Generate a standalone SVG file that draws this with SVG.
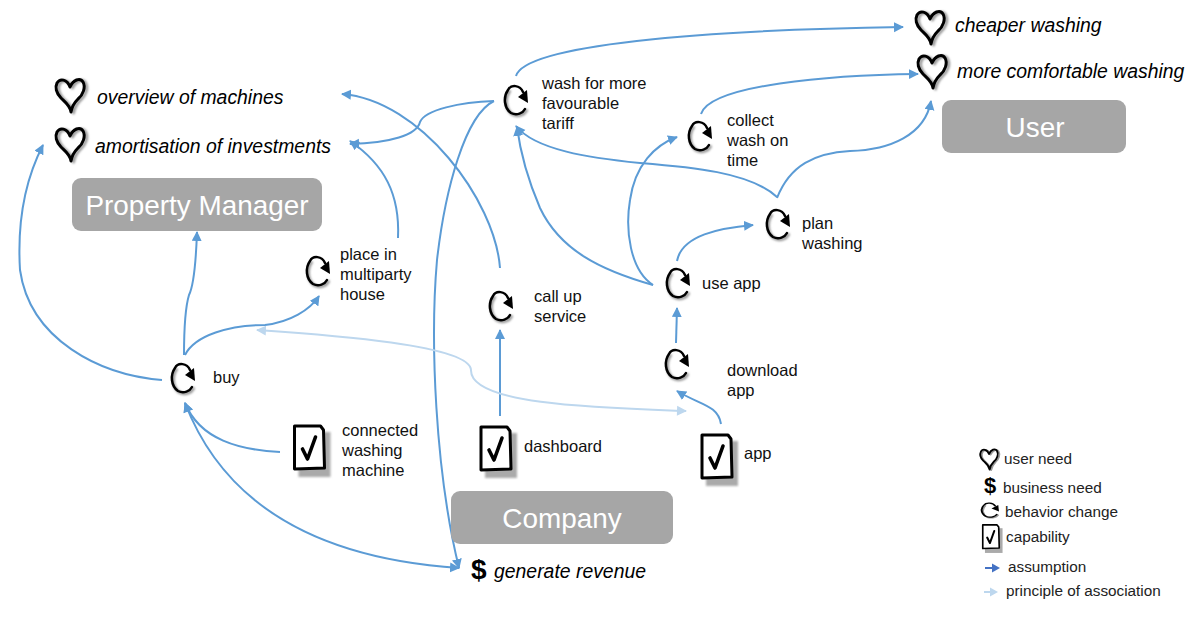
<svg xmlns="http://www.w3.org/2000/svg" width="1195" height="619" viewBox="0 0 1195 619">
<style>
text{font-family:"Liberation Sans",Arial,sans-serif;fill:#111}
.t{font-size:16.5px}
.n{font-size:19.4px;font-style:italic;fill:#000}
.l{font-size:15.300px;fill:#222}
.b{font-size:27.900px;fill:#fff;text-anchor:middle}
.box{fill:#a6a6a6}
.c{fill:none;stroke:#5b9bd5;stroke-width:2;marker-end:url(#a)}
.p{fill:none;stroke:#bdd7ee;stroke-width:2;marker-end:url(#p);marker-start:url(#ps)}
.ink{fill:none;stroke:#000;stroke-linecap:round;stroke-linejoin:round}
.sh{fill:none;stroke:#999;stroke-linecap:round;stroke-linejoin:round;filter:url(#blur)}
</style>
<defs>
<filter id="blur" x="-30%" y="-30%" width="160%" height="160%"><feGaussianBlur stdDeviation="0.8"/></filter>
<marker id="a" markerUnits="userSpaceOnUse" markerWidth="11" markerHeight="11" refX="9" refY="5" orient="auto"><path d="M0 0L10 5L0 10Z" fill="#5b9bd5"/></marker>
<marker id="as" markerUnits="userSpaceOnUse" markerWidth="11" markerHeight="11" refX="1" refY="5" orient="auto"><path d="M10 0L0 5L10 10Z" fill="#5b9bd5"/></marker>
<marker id="p" markerUnits="userSpaceOnUse" markerWidth="11" markerHeight="11" refX="9" refY="5" orient="auto"><path d="M0 0L10 5L0 10Z" fill="#bdd7ee"/></marker>
<marker id="ps" markerUnits="userSpaceOnUse" markerWidth="11" markerHeight="11" refX="1" refY="5" orient="auto"><path d="M10 0L0 5L10 10Z" fill="#bdd7ee"/></marker>
<symbol id="heart" overflow="visible" viewBox="-20 -20 40 40" width="40" height="40">
<path class="sh" stroke-width="3" transform="translate(2.500,1)" d="M1 17C0 10-5 7-9 3C-14-2-15-8-13-12C-10-17-3-16 0-8C3-15 10-18 13-13C16-8 13 0 8 4C4 8 2 11 1 17Z"/>
<path class="ink" stroke-width="3" d="M1 17C0 10-5 7-9 3C-14-2-15-8-13-12C-10-17-3-16 0-8C3-15 10-18 13-13C16-8 13 0 8 4C4 8 2 11 1 17Z"/>
</symbol>
<symbol id="cycle" overflow="visible" viewBox="-20 -20 40 40" width="40" height="40">
<path class="sh" stroke-width="3" transform="translate(1.500,1.500)" d="M-8-10C-13-3-12 8-5 13C1 16 7 13 9 9"/>
<path class="ink" stroke-width="2.500" d="M7-8C4-15-5-16-8-10C-13-3-12 8-5 13C1 16 7 13 9 9"/>
<path d="M2-3L11-10L12 3Z" fill="#000"/>
</symbol>
<symbol id="check" overflow="visible" viewBox="-20 -26 40 52" width="40" height="52">
<path d="M-11-16H21V29H-11Z" fill="#aaa" filter="url(#blur)"/>
<path d="M-15-22H11L14-18L15 20L-15 21Z" fill="#fff" stroke="#000" stroke-width="3" stroke-linejoin="round"/>
<path class="ink" stroke-width="3.600" d="M-7 1L-2 11L6-11"/>
</symbol>
</defs>

<g id="connectors">
<path class="c" d="M516 76C525 45 700 30 903 27"/>
<path class="c" d="M701 114C710 85 830 75 918 74"/>
<path class="c" d="M777 198C790 165 815 153 850 151C890 150 925 135 931 101"/>
<path class="c" d="M777 197C750 172 690 167 640 163C590 158 535 150 516 126"/>
<path class="c" d="M653 285C600 270 560 250 540 208C528 180 520 150 517 127"/>
<path class="c" d="M653 285C630 270 625 230 630 200C635 165 655 145 677 137"/>
<path class="c" d="M677 261C682 235 720 228 753 225"/>
<path class="c" d="M676 343L677 308"/>
<path class="c" d="M721 424C718 405 700 405 677 391"/>
<path class="c" d="M500 416V330"/>
<path class="c" d="M500 268C495 200 420 100 342 94"/>
<path class="c" d="M494 101C460 102 425 110 420 122C417 135 390 143 350 144"/>
<path class="c" d="M494 101C465 115 445 190 437 260C430 340 435 470 459 568"/>
<path class="c" d="M280 452C240 450 200 440 185 403"/>
<path class="c" style="marker-start:url(#as)" d="M185 403C230 520 340 560 459 568"/>
<path class="c" d="M162 380C100 375 30 340 20 270C17 220 25 180 43 145"/>
<path class="c" d="M184 355C184 325 186 305 189 295C194 285 196 260 197 232"/>
<path class="c" d="M185 355C195 335 230 325 265 325C290 322 310 310 319 296"/>
<path class="c" d="M398 238C400 195 385 165 350 141"/>
<path class="p" d="M686 411C600 408 470 405 471 370C470 345 330 335 257 330"/>
</g>

<g id="overview"><use href="#heart" x="50" y="75"/><text class="n" x="97" y="104">overview of machines</text></g>
<g id="amortisation"><use href="#heart" x="50" y="124"/><text class="n" x="95" y="153">amortisation of investments</text></g>
<g id="cheaper"><use href="#heart" x="910" y="7"/><text class="n" x="955" y="32">cheaper washing</text></g>
<g id="comfortable"><use href="#heart" x="912" y="51"/><text class="n" x="957" y="78">more comfortable washing</text></g>
<g id="property-manager"><rect class="box" x="72" y="178" width="250" height="53" rx="9"/><text class="b" x="197" y="215">Property Manager</text></g>
<g id="user"><rect class="box" x="942" y="100" width="184" height="53" rx="9"/><text class="b" x="1035" y="137">User</text></g>
<g id="company"><rect class="box" x="451" y="491" width="222" height="53" rx="9"/><text class="b" x="562" y="528">Company</text></g>
<g id="wash"><use href="#cycle" x="496" y="80"/><text class="t" x="542" y="89">wash for more</text><text class="t" x="542" y="109">favourable</text><text class="t" x="542" y="129">tariff</text></g>
<g id="collect"><use href="#cycle" x="680" y="116"/><text class="t" x="727" y="126">collect</text><text class="t" x="727" y="146">wash on</text><text class="t" x="727" y="166">time</text></g>
<g id="plan"><use href="#cycle" x="758" y="204"/><text class="t" x="802" y="229">plan</text><text class="t" x="802" y="249">washing</text></g>
<g id="use-app"><use href="#cycle" x="658" y="263"/><text class="t" x="702" y="289">use app</text></g>
<g id="download"><use href="#cycle" x="657" y="344"/><text class="t" x="727" y="376">download</text><text class="t" x="727" y="396">app</text></g>
<g id="call-up"><use href="#cycle" x="481" y="286"/><text class="t" x="534" y="302">call up</text><text class="t" x="534" y="322">service</text></g>
<g id="place"><use href="#cycle" x="298" y="251"/><text class="t" x="340" y="260">place in</text><text class="t" x="340" y="280">multiparty</text><text class="t" x="340" y="300">house</text></g>
<g id="buy"><use href="#cycle" x="163" y="358"/><text class="t" x="213" y="383">buy</text></g>
<g id="connected"><use href="#check" x="289.500" y="422"/><text class="t" x="342" y="436">connected</text><text class="t" x="342" y="456">washing</text><text class="t" x="342" y="476">machine</text></g>
<g id="dashboard"><use href="#check" x="476" y="423"/><text class="t" x="524" y="452">dashboard</text></g>
<g id="app"><use href="#check" x="697" y="431"/><text class="t" x="744" y="459">app</text></g>
<g id="generate"><text x="471" y="579" style="font-size:28px;font-weight:bold;fill:#000">$</text><text class="n" x="494" y="578">generate revenue</text></g>

<g id="legend">
<use href="#heart" transform="translate(989,459) scale(.62) translate(-20,-20)"/><text class="l" x="1004" y="464">user need</text>
<text x="984" y="493" style="font-size:22px;font-weight:bold;fill:#000">$</text><text class="l" x="1003" y="493">business need</text>
<use href="#cycle" transform="translate(990,510) scale(.75,.5) translate(-20,-20)"/><text class="l" x="1005" y="517">behavior change</text>
<use href="#check" transform="translate(991,537) scale(.55) translate(-20,-26)"/><text class="l" x="1006" y="542">capability</text>
<path d="M985 568H994" stroke="#4472c4" stroke-width="2"/><path d="M992 563.500L1000 568L992 572.500Z" fill="#4472c4"/><text class="l" x="1008" y="572">assumption</text>
<path d="M984 592H993" stroke="#bdd7ee" stroke-width="2"/><path d="M990 587.500L998 592L990 596.500Z" fill="#bdd7ee"/><text class="l" x="1006" y="596">principle of association</text>
</g>
</svg>
